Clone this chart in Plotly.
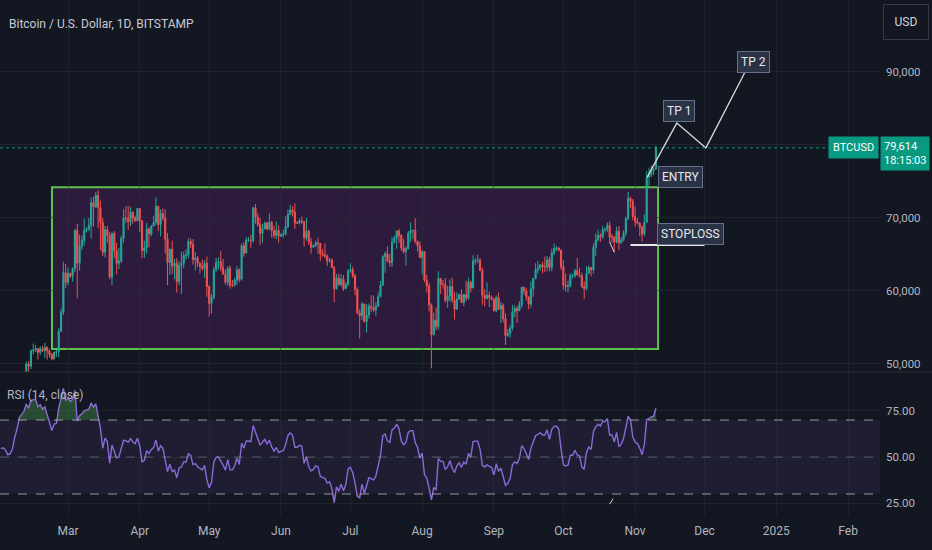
import numpy as np
import pandas as pd
import plotly.graph_objects as go

# BTCUSD daily (Bitstamp), values in thousands of USD
# Dec 2023 / Jan 2024 closes are only used to warm up the RSI(14), they sit left of the view
warmup_close = [38.7, 39.5, 39.9, 42.0, 44.1, 43.8, 43.3, 44.2, 43.8, 43.7, 41.2, 41.5, 42.9, 43.0, 41.9, 42.3,
                41.4, 42.7, 42.3, 43.7, 43.9, 44.0, 43.7, 43.0, 43.6, 42.5, 43.4, 42.6, 42.1, 42.2, 42.3,
                44.2, 44.9, 42.8, 44.2, 44.2, 43.9, 43.9, 46.9, 46.1, 46.6, 46.3, 42.8, 42.8, 41.7, 42.5, 43.1,
                42.7, 41.3, 41.6, 41.7, 41.6, 39.5, 39.9, 40.1, 39.9, 41.8, 42.1, 42.0, 43.3, 42.9, 42.6]

first_day = "2024-02-01"

close_k = [
    # Feb
    43.1, 43.2, 43.0, 42.6, 42.7, 43.1, 44.3, 45.3, 47.1, 47.8, 48.3, 50.0, 49.7, 51.8, 51.9, 52.1, 51.6, 52.1,
    51.8, 52.3, 51.8, 51.3, 50.7, 51.6, 51.7, 54.5, 57.1, 62.5, 61.2,
    # Mar
    62.4, 62.0, 63.1, 68.3, 63.8, 66.1, 66.9, 68.3, 68.5, 69.0, 72.1, 71.5, 73.1, 71.4, 69.4, 65.3, 68.4, 67.6,
    61.9, 67.9, 65.5, 63.8, 64.1, 67.2, 70.0, 69.9, 69.5, 70.8, 70.0, 69.6, 71.3,
    # Apr
    69.6, 65.5, 65.9, 68.5, 67.8, 68.9, 69.4, 71.6, 69.1, 70.6, 70.0, 67.1, 63.9, 65.7, 63.4, 63.8, 61.3, 63.5,
    63.8, 64.9, 64.9, 66.8, 66.4, 64.3, 64.5, 63.8, 63.4, 63.1, 63.8, 60.6,
    # May
    58.3, 59.1, 62.9, 63.9, 64.0, 63.2, 62.3, 61.2, 63.1, 60.8, 60.8, 61.5, 62.9, 61.6, 66.2, 65.2, 67.0, 67.0,
    66.9, 71.4, 70.1, 69.1, 67.9, 68.5, 69.3, 68.5, 69.4, 68.3, 67.6, 68.3, 67.5,
    # Jun
    67.7, 67.8, 68.8, 70.5, 71.1, 70.8, 69.3, 69.3, 69.6, 69.5, 67.3, 68.2, 66.7, 66.0, 66.2, 66.6, 66.5, 65.1,
    64.9, 64.8, 64.1, 64.2, 63.2, 60.3, 61.8, 60.9, 61.6, 60.3, 60.9, 62.7,
    # Jul
    62.9, 62.1, 60.2, 57.0, 56.6, 58.2, 55.8, 56.7, 57.9, 57.7, 57.4, 57.9, 59.2, 60.8, 64.7, 65.1, 64.1, 63.9,
    66.7, 67.2, 68.2, 67.6, 65.9, 65.4, 65.8, 67.9, 68.3, 68.3, 66.8, 66.2, 64.6,
    # Aug
    65.4, 61.5, 60.7, 58.1, 54.0, 56.0, 55.1, 61.7, 60.9, 60.9, 58.7, 59.3, 60.6, 58.7, 57.5, 58.9, 59.5, 58.4,
    59.5, 59.0, 61.2, 60.4, 64.1, 64.2, 64.2, 62.8, 59.4, 59.0, 59.4, 59.1, 58.9,
    # Sep
    57.3, 59.1, 57.5, 58.0, 56.2, 53.9, 54.2, 54.9, 57.1, 57.6, 57.3, 58.1, 60.5, 60.0, 59.2, 58.2, 60.3, 61.7,
    62.9, 63.2, 63.6, 63.3, 63.3, 64.3, 63.2, 65.2, 65.8, 65.9, 65.6, 63.3,
    # Oct
    60.8, 60.6, 60.7, 62.1, 62.1, 62.8, 62.2, 62.1, 60.6, 60.3, 62.4, 63.2, 62.9, 66.0, 67.0, 67.6, 67.4, 68.4,
    68.4, 69.0, 67.4, 67.4, 66.7, 68.2, 66.6, 67.0, 67.9, 69.9, 72.7, 72.3, 70.2,
    # Nov
    69.5, 69.3, 68.7, 67.8, 69.4, 75.6, 75.9, 76.5, 76.7, 79.614,
]

high_k = [
    43.3, 43.5, 43.4, 43.1, 43.5, 43.4, 44.4, 45.6, 48.2, 48.2, 48.6, 50.3, 50.4, 52.0, 52.8, 52.6, 52.2, 52.4,
    52.5, 52.9, 52.4, 52.0, 51.5, 51.7, 51.9, 54.9, 57.6, 64.0, 63.7,
    63.2, 62.5, 63.2, 68.5, 69.2, 67.7, 67.6, 69.9, 68.7, 70.0, 72.8, 72.9, 73.6, 73.8, 72.4, 70.0, 68.9, 68.9,
    68.1, 68.0, 68.2, 66.6, 65.9, 67.6, 71.2, 71.6, 71.7, 71.5, 70.9, 70.3, 71.4,
    71.3, 69.7, 66.9, 69.3, 68.7, 69.0, 70.3, 72.8, 71.7, 71.2, 71.3, 71.2, 67.9, 65.8, 66.9, 64.4, 64.5, 64.1,
    65.4, 65.4, 65.7, 67.2, 67.2, 67.1, 65.3, 64.8, 63.9, 64.3, 64.2, 64.7,
    60.8, 59.6, 63.3, 64.5, 64.6, 65.5, 64.4, 62.9, 63.4, 63.5, 61.5, 61.8, 63.4, 63.1, 66.5, 66.7, 67.4, 67.4,
    67.7, 71.5, 71.9, 70.6, 70.0, 69.2, 69.5, 69.5, 70.6, 69.6, 68.9, 69.5, 69.0,
    67.9, 68.4, 70.2, 71.1, 71.8, 71.6, 72.0, 69.6, 69.9, 70.2, 69.6, 70.0, 68.4, 67.3, 66.4, 66.9, 67.3, 66.6,
    65.7, 66.5, 65.0, 64.5, 64.5, 63.4, 62.3, 62.4, 62.3, 62.2, 61.2, 63.0,
    63.8, 63.3, 62.3, 60.5, 57.5, 58.5, 58.3, 58.2, 58.3, 59.4, 59.4, 58.5, 59.8, 61.4, 64.9, 65.4, 66.1, 65.1,
    67.4, 67.6, 68.3, 68.5, 67.8, 67.1, 66.1, 68.2, 69.4, 68.3, 70.0, 66.9, 66.8,
    65.6, 65.0, 62.2, 61.1, 58.3, 57.0, 57.7, 62.7, 61.8, 61.5, 61.8, 60.7, 61.6, 61.8, 59.8, 59.8, 59.6, 60.2,
    59.6, 61.4, 61.8, 61.4, 64.9, 64.5, 65.0, 64.5, 63.2, 60.2, 61.2, 59.9, 59.4,
    59.0, 59.4, 59.8, 58.5, 58.3, 56.9, 54.8, 55.3, 58.1, 58.0, 57.9, 58.6, 60.6, 60.6, 60.4, 59.2, 61.3, 61.8,
    63.8, 64.1, 63.6, 64.0, 64.7, 64.8, 64.7, 65.8, 66.5, 66.2, 66.0, 65.6,
    64.2, 62.4, 61.4, 62.4, 62.4, 63.0, 64.5, 63.2, 62.5, 61.3, 63.4, 63.5, 63.3, 66.5, 67.9, 68.4, 67.9, 68.9,
    68.7, 69.4, 69.5, 67.8, 67.5, 68.8, 68.9, 67.4, 68.3, 70.2, 73.6, 72.9, 72.6,
    71.6, 70.0, 69.4, 69.0, 70.5, 76.4, 76.9, 77.2, 76.9, 79.9,
]

low_k = [
    41.9, 42.6, 42.9, 42.3, 42.3, 42.6, 42.8, 44.3, 45.3, 46.8, 47.6, 47.7, 48.4, 49.3, 51.3, 51.6, 50.6, 51.2,
    51.6, 50.8, 50.6, 50.9, 50.5, 50.6, 51.0, 50.9, 54.4, 56.7, 60.4,
    60.8, 61.8, 61.3, 62.6, 59.0, 62.8, 65.6, 66.2, 68.0, 68.2, 67.2, 68.8, 71.4, 68.6, 65.6, 64.8, 64.6, 66.6,
    61.6, 60.8, 64.5, 62.3, 63.0, 63.8, 66.6, 69.3, 68.4, 68.9, 69.2, 69.5, 69.6,
    68.1, 64.5, 64.5, 65.1, 66.0, 67.5, 68.8, 69.0, 68.2, 67.5, 69.6, 65.1, 60.8, 62.2, 62.3, 61.6, 59.8, 60.8,
    59.6, 63.1, 64.3, 64.5, 65.9, 63.6, 62.8, 63.3, 62.4, 62.8, 61.8, 59.2,
    56.5, 56.9, 58.8, 62.6, 62.9, 62.7, 62.3, 60.9, 60.7, 60.3, 60.5, 60.6, 60.8, 61.2, 61.4, 64.7, 65.1, 66.7,
    65.9, 66.6, 69.2, 68.8, 66.3, 66.6, 68.5, 68.3, 68.3, 67.3, 67.2, 67.1, 66.6,
    67.4, 67.3, 67.6, 68.6, 70.4, 70.2, 68.5, 69.2, 69.1, 69.2, 66.1, 66.9, 66.3, 65.1, 65.9, 66.0, 65.1, 64.1,
    64.7, 64.5, 63.4, 63.9, 63.2, 58.5, 60.2, 60.7, 60.6, 60.0, 60.3, 60.7,
    62.5, 61.8, 59.4, 56.8, 53.5, 56.0, 55.7, 54.3, 56.2, 57.1, 57.1, 56.6, 57.8, 59.3, 60.7, 62.5, 63.9, 63.3,
    63.3, 66.5, 65.8, 66.6, 65.5, 65.1, 63.5, 65.7, 66.7, 67.1, 66.5, 65.4, 64.5,
    62.3, 61.2, 59.8, 57.2, 49.4, 53.9, 54.6, 54.7, 59.6, 60.3, 58.4, 57.7, 58.5, 58.4, 56.1, 57.8, 58.8, 58.4,
    57.9, 58.6, 58.8, 59.8, 60.4, 63.6, 63.8, 62.8, 58.1, 57.9, 58.8, 57.8, 58.7,
    57.2, 57.1, 57.4, 55.6, 55.7, 52.6, 53.7, 53.6, 54.6, 56.4, 55.6, 57.4, 57.7, 59.5, 58.7, 57.5, 57.7, 59.2,
    61.6, 62.4, 62.8, 62.4, 62.6, 62.7, 62.7, 62.7, 64.9, 65.5, 65.4, 62.9,
    60.2, 59.9, 59.8, 60.5, 61.7, 61.8, 62.1, 61.8, 60.4, 58.9, 60.1, 62.4, 62.0, 62.4, 64.8, 66.8, 66.7, 67.1,
    68.0, 68.1, 66.6, 66.6, 65.3, 66.5, 65.6, 66.5, 66.8, 67.5, 69.7, 71.4, 69.7,
    68.8, 69.1, 67.5, 66.8, 67.5, 69.4, 74.4, 75.6, 75.9, 76.6,
]

# drawings on the chart (date, price in k)
range_box = dict(start="2024-02-23 02:00", end="2024-11-10 22:00", low=52.05, high=74.2)
tp_path_dates = ["2024-11-06 05:00", "2024-11-19 00:00", "2024-12-01 14:00", "2024-12-18 12:00"]
tp_path_prices = [75.6, 83.0, 79.6, 90.0]
stoploss_dates = ["2024-10-30 00:00", "2024-12-01 00:00"]
stoploss_price = 66.3
labels = [("TP 1", "2024-11-20 00:00", 84.7), ("TP 2", "2024-12-22 00:00", 91.4),
          ("ENTRY", "2024-11-20 10:00", 75.6), ("STOPLOSS", "2024-11-25 00:00", 67.8)]

month_ticks = pd.date_range("2024-02-01", "2025-02-01", freq="MS")
month_text = ["Feb", "Mar", "Apr", "May", "Jun", "Jul", "Aug", "Sep", "Oct", "Nov", "Dec", "2025", "Feb"]
price_ticks = [50000, 60000, 70000, 80000, 90000]
price_text = ["50,000", "60,000", "70,000", "", "90,000"]
rsi_ticks = [25, 50, 75]
rsi_text = ["25.00", "50.00", "75.00"]

BG = "#131722"
GRID = "rgba(42,46,57,0.55)"
UP = "#26A69A"
DOWN = "#EF5350"
TEAL = "#089981"
AXIS_TXT = "#B2B5BE"
FONT = "Roboto, Liberation Sans, sans-serif"

dates = pd.date_range(first_day, periods=len(close_k), freq="D")
close = np.array(close_k) * 1000
high = np.array(high_k) * 1000
low = np.array(low_k) * 1000
# 24/7 market: every daily candle opens at the previous close
opens = np.concatenate([[warmup_close[-1] * 1000], close[:-1]])
high = np.maximum(high, np.maximum(opens, close))
low = np.minimum(low, np.minimum(opens, close))

# RSI(14, close), Wilder smoothing like TradingView
all_close = np.array(warmup_close + close_k) * 1000
chg = np.diff(all_close)
up = np.clip(chg, 0, None)
dn = np.clip(-chg, 0, None)
n = 14
au = np.full(len(up), np.nan)
ad = np.full(len(up), np.nan)
au[n - 1] = up[:n].mean()
ad[n - 1] = dn[:n].mean()
for i in range(n, len(up)):
    au[i] = (au[i - 1] * (n - 1) + up[i]) / n
    ad[i] = (ad[i - 1] * (n - 1) + dn[i]) / n
rsi = (100 - 100 / (1 + au / ad))[-len(close_k):]

fig = go.Figure()

# price pane
fig.add_trace(go.Candlestick(
    x=dates, open=opens, high=high, low=low, close=close, xaxis="x2", yaxis="y",
    increasing=dict(line=dict(color=UP, width=1), fillcolor=UP),
    decreasing=dict(line=dict(color=DOWN, width=1), fillcolor=DOWN),
    whiskerwidth=0, hoverinfo="skip", showlegend=False))

fig.add_trace(go.Scatter(x=tp_path_dates, y=np.array(tp_path_prices) * 1000,
                         mode="lines", line=dict(color="#D8DAE0", width=1.3),
                         xaxis="x2", yaxis="y", hoverinfo="skip"))
fig.add_trace(go.Scatter(x=stoploss_dates, y=[stoploss_price * 1000] * 2,
                         mode="lines", line=dict(color="#E6E7EB", width=2),
                         xaxis="x2", yaxis="y", hoverinfo="skip"))
# small stray pen strokes
fig.add_trace(go.Scatter(x=["2024-10-21 00:00", "2024-10-23 00:00"], y=[66700, 65300],
                         mode="lines", line=dict(color="#D8DAE0", width=1),
                         xaxis="x2", yaxis="y", hoverinfo="skip"))

# RSI pane
fig.add_trace(go.Scatter(x=dates, y=np.full(len(rsi), 70.0), mode="lines", line=dict(width=0),
                         xaxis="x", yaxis="y2", hoverinfo="skip"))
fig.add_trace(go.Scatter(x=dates, y=np.maximum(rsi, 70), mode="lines", line=dict(width=0),
                         fill="tonexty", fillcolor="rgba(76,175,80,0.35)",
                         xaxis="x", yaxis="y2", hoverinfo="skip"))
fig.add_trace(go.Scatter(x=dates, y=np.full(len(rsi), 30.0), mode="lines", line=dict(width=0),
                         xaxis="x", yaxis="y2", hoverinfo="skip"))
fig.add_trace(go.Scatter(x=dates, y=np.minimum(rsi, 30), mode="lines", line=dict(width=0),
                         fill="tonexty", fillcolor="rgba(239,83,80,0.25)",
                         xaxis="x", yaxis="y2", hoverinfo="skip"))
fig.add_trace(go.Scatter(x=dates, y=rsi, mode="lines", line=dict(color="#8A6BD6", width=1.4),
                         xaxis="x", yaxis="y2", hoverinfo="skip"))
fig.add_trace(go.Scatter(x=["2024-10-21 00:00", "2024-10-22 12:00"], y=[24.5, 27.5],
                         mode="lines", line=dict(color="#D8DAE0", width=1),
                         xaxis="x", yaxis="y2", hoverinfo="skip"))

shapes = [
    # range box
    dict(type="rect", xref="x2", yref="y", x0=range_box["start"], x1=range_box["end"],
         y0=range_box["low"] * 1000, y1=range_box["high"] * 1000,
         line=dict(color="#5CC24E", width=2), fillcolor="rgba(120,40,140,0.27)", layer="below"),
    # last price line
    dict(type="line", xref="x2 domain", yref="y", x0=0, x1=1, y0=close[-1], y1=close[-1],
         line=dict(color=TEAL, width=1, dash="dot")),
    # RSI band and levels
    dict(type="rect", xref="x domain", yref="y2", x0=0, x1=1, y0=30, y1=70,
         fillcolor="rgba(126,87,194,0.10)", line=dict(width=0), layer="below"),
    dict(type="line", xref="x domain", yref="y2", x0=0, x1=1, y0=70, y1=70,
         line=dict(color="rgba(190,193,202,0.75)", width=1, dash="dash")),
    dict(type="line", xref="x domain", yref="y2", x0=0, x1=1, y0=50, y1=50,
         line=dict(color="rgba(160,163,172,0.45)", width=1, dash="dash")),
    dict(type="line", xref="x domain", yref="y2", x0=0, x1=1, y0=30, y1=30,
         line=dict(color="rgba(190,193,202,0.75)", width=1, dash="dash")),
    # pane separator
    dict(type="line", xref="paper", yref="paper", x0=0, x1=932 / 880, y0=143 / 515, y1=143 / 515,
         line=dict(color="#2A2E39", width=1)),
]

box_style = dict(bgcolor="#2A3246", bordercolor="#66708A", borderwidth=1, borderpad=3,
                 font=dict(family=FONT, size=12, color="#E6E8EE"), showarrow=False)
annotations = [dict(text=t, x=d, y=p * 1000, xref="x2", yref="y", **box_style) for t, d, p in labels]
annotations += [
    dict(text="Bitcoin / U.S. Dollar, 1D, BITSTAMP", xref="paper", yref="paper", x=7 / 880, y=1 - 24 / 515,
         xanchor="left", yanchor="middle", showarrow=False, font=dict(family=FONT, size=12, color="#C9CCD4")),
    dict(text="RSI (14, close)", xref="paper", yref="paper", x=5 / 880, y=(515 - 395) / 515,
         xanchor="left", yanchor="middle", showarrow=False, font=dict(family=FONT, size=12, color=AXIS_TXT)),
    dict(text="USD", xref="paper", yref="paper", x=905.5 / 880, y=1 - 22.5 / 515, width=42, height=32,
         xanchor="center", yanchor="middle", showarrow=False, bordercolor="#363A45", borderwidth=1,
         borderpad=1, font=dict(family=FONT, size=12, color="#D1D4DC")),
    dict(text="BTCUSD", xref="paper", yref="y", x=1, y=close[-1], xanchor="right", yanchor="middle",
         xshift=-1, showarrow=False, bgcolor=TEAL, borderpad=4,
         font=dict(family=FONT, size=11, color="#FFFFFF")),
    dict(text=f"{close[-1]:,.0f}<br>18:15:03", xref="paper", yref="y", x=1, y=close[-1],
         xanchor="left", yanchor="top", yshift=12, align="left", showarrow=False, bgcolor=TEAL, borderpad=3,
         font=dict(family=FONT, size=11, color="#FFFFFF")),
]

fig.update_layout(
    width=932, height=550, margin=dict(l=0, r=52, t=0, b=35),
    paper_bgcolor=BG, plot_bgcolor=BG, showlegend=False, hovermode=False,
    shapes=shapes, annotations=annotations,
    xaxis=dict(domain=[0, 1], anchor="y2", type="date",
               range=["2024-01-31 15:00", "2025-02-14 19:00"],
               tickvals=month_ticks, ticktext=month_text, showgrid=True, gridcolor=GRID,
               zeroline=False, showline=False, ticks="", ticklabelstandoff=7,
               tickfont=dict(family=FONT, size=12, color=AXIS_TXT)),
    xaxis2=dict(domain=[0, 1], anchor="y", matches="x", type="date", tickvals=month_ticks,
                showticklabels=False, showgrid=True, gridcolor=GRID, zeroline=False,
                rangeslider=dict(visible=False)),
    yaxis=dict(domain=[143 / 515, 1], anchor="x2", side="right", range=[48900, 99860],
               tickvals=price_ticks, ticktext=price_text, showgrid=True, gridcolor=GRID,
               zeroline=False, ticks="", ticklabelstandoff=5,
               tickfont=dict(family=FONT, size=11.5, color=AXIS_TXT)),
    yaxis2=dict(domain=[0, 141 / 515], anchor="x", side="right", range=[18.65, 94.9],
                tickvals=rsi_ticks, ticktext=rsi_text, showgrid=True, gridcolor=GRID,
                zeroline=False, ticks="", ticklabelstandoff=5,
                tickfont=dict(family=FONT, size=11.5, color=AXIS_TXT)),
)

# page body margin off so the chart fills the window like the screenshot
fig.write_html("out.html", config={"displayModeBar": False},
               post_script="document.body.style.margin='0';")
